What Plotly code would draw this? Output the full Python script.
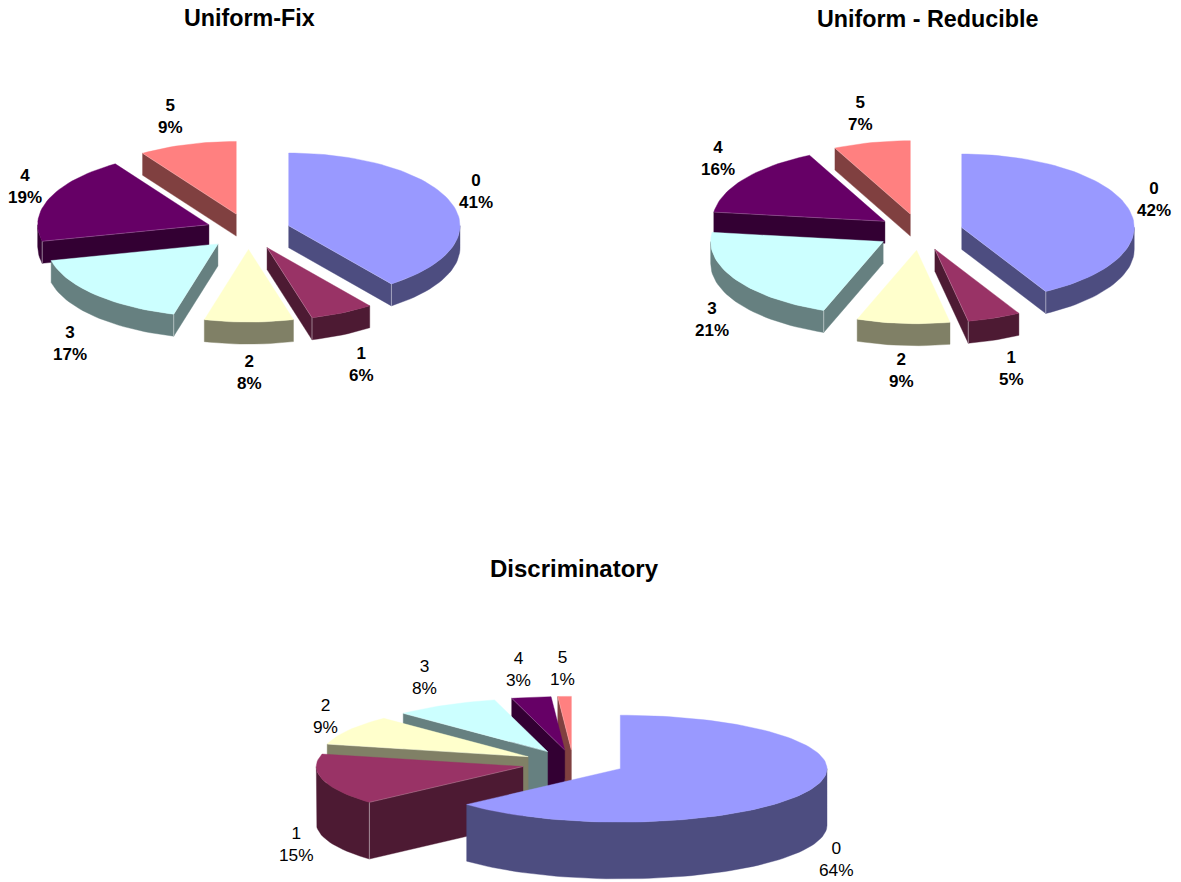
import math
import plotly.graph_objects as go

CATEGORIES = ["0", "1", "2", "3", "4", "5"]
UNIFORM_FIX = [41.05, 6.1, 8.35, 16.65, 18.75, 9.1]
UNIFORM_REDUCIBLE = [41.9, 5.0, 8.7, 21.4, 15.8, 7.2]
DISCRIMINATORY = [64.24, 14.93, 8.68, 8.04, 3.06, 1.05]
TITLES = ["Uniform-Fix", "Uniform - Reducible", "Discriminatory"]

TOP = ["#9999FF", "#993366", "#FFFFCC", "#CCFFFF", "#660066", "#FF8080"]
WALL = ["#4D4D80", "#4D1A33", "#808066", "#668080", "#330033", "#804040"]
FONT = "Liberation Sans, Arial, sans-serif"

PIES = [
    dict(values=UNIFORM_FIX, cx=248.4, cy=231.4, rx=171.3, ry=72.7, depth=22, warp=5,
         pull=0.248, bold=True, title_xy=(249, 18), title_size=23.3, label_size=17,
         labels=[(476, 191), (361, 364), (249, 372), (70, 343), (25, 186), (170, 116)]),
    dict(values=UNIFORM_REDUCIBLE, cx=920, cy=232, rx=172.5, ry=73.4, depth=22, warp=0,
         pull=0.25, bold=True, title_xy=(927, 19), title_size=23.3, label_size=17,
         labels=[(1154, 199), (1011, 368), (901, 370), (712, 319), (718, 158), (860, 113)]),
    dict(values=DISCRIMINATORY, cx=573.1, cy=763.25, rx=206.7, ry=53.5, depth=56.7, warp=4,
         pull=0.25, bold=False, title_xy=(574, 568), title_size=24, label_size=17.3,
         labels=[(836, 859), (296, 844), (325, 716), (424, 677), (518, 669), (562, 668)]),
]


def rim(cx, cy, rx, ry, deg):
    a = math.radians(deg)
    return cx + rx * math.sin(a), cy - ry * math.cos(a)


def add_poly(fig, pts, color):
    xs = [p[0] for p in pts] + [pts[0][0]]
    ys = [p[1] for p in pts] + [pts[0][1]]
    fig.add_trace(go.Scatter(x=xs, y=ys, mode="lines", fill="toself", fillcolor=color,
                             line=dict(width=0.4, color=color), hoverinfo="skip", showlegend=False))


def add_edge(fig, p, q, alpha):
    fig.add_trace(go.Scatter(x=[p[0], q[0]], y=[p[1], q[1]], mode="lines",
                             line=dict(width=1, color=f"rgba(255,255,255,{alpha})"),
                             hoverinfo="skip", showlegend=False))


fig = go.Figure()
annotations = []
for pie in PIES:
    total = sum(pie["values"])
    warp = lambda t: t - pie["warp"] * math.sin(math.radians(t / 2)) ** 2
    start = 0.0
    slices = []
    for i, v in enumerate(pie["values"]):
        end = start + 360.0 * v / total
        a0, a1 = warp(start), warp(end)
        mid = math.radians((a0 + a1) / 2)
        ax = pie["cx"] + pie["pull"] * pie["rx"] * math.sin(mid)
        ay = pie["cy"] - pie["pull"] * pie["ry"] * math.cos(mid)
        slices.append((ay, i, ax, a0, a1))
        start = end
    for ay, i, ax, a0, a1 in sorted(slices):
        d = pie["depth"]
        n = max(6, int((a1 - a0) / 2))
        arc = [rim(ax, ay, pie["rx"], pie["ry"], a0 + (a1 - a0) * k / n) for k in range(n + 1)]
        edges = []
        if math.sin(math.radians(a0)) < 0:
            edges.append((arc[0], a0))
        if math.sin(math.radians(a1)) > 0:
            edges.append((arc[-1], a1))
        for p, _ in edges:
            add_poly(fig, [(ax, ay), p, (p[0], p[1] + d), (ax, ay + d)], WALL[i])
        lo, hi = max(a0, 90.0), min(a1, 270.0)
        if hi > lo:
            m = max(6, int((hi - lo) / 2))
            front = [rim(ax, ay, pie["rx"], pie["ry"], lo + (hi - lo) * k / m) for k in range(m + 1)]
            add_poly(fig, front + [(p[0], p[1] + d) for p in reversed(front)], WALL[i])
            for p, ang in edges:
                if 90 < ang < 270:
                    add_edge(fig, p, (p[0], p[1] + d), 0.45)
        add_poly(fig, [(ax, ay)] + arc, TOP[i])
        for p, _ in edges:
            add_edge(fig, (ax, ay), p, 0.2)
    for i, (lx, ly) in enumerate(pie["labels"]):
        pct = round(pie["values"][i])
        t = f"{CATEGORIES[i]}<br>{pct}%"
        if pie["bold"]:
            t = f"<b>{CATEGORIES[i]}</b><br><b>{pct}%</b>"
        annotations.append(dict(x=lx, y=ly, xref="x", yref="y", text=t, showarrow=False,
                                font=dict(family=FONT, size=pie["label_size"], color="black")))

for t, pie in zip(TITLES, PIES):
    annotations.append(dict(x=pie["title_xy"][0], y=pie["title_xy"][1], xref="x", yref="y",
                            text=f"<b>{t}</b>", showarrow=False,
                            font=dict(family=FONT, size=pie["title_size"], color="black")))

fig.update_layout(
    width=1181, height=882, margin=dict(l=0, r=0, t=0, b=0),
    paper_bgcolor="white", plot_bgcolor="white", showlegend=False,
    xaxis=dict(range=[0, 1181], visible=False, fixedrange=True),
    yaxis=dict(range=[882, 0], visible=False, fixedrange=True),
    annotations=annotations,
)
fig.write_html("out.html", config={"displayModeBar": False},
               post_script="document.body.style.margin='0';document.body.style.overflow='hidden';")
